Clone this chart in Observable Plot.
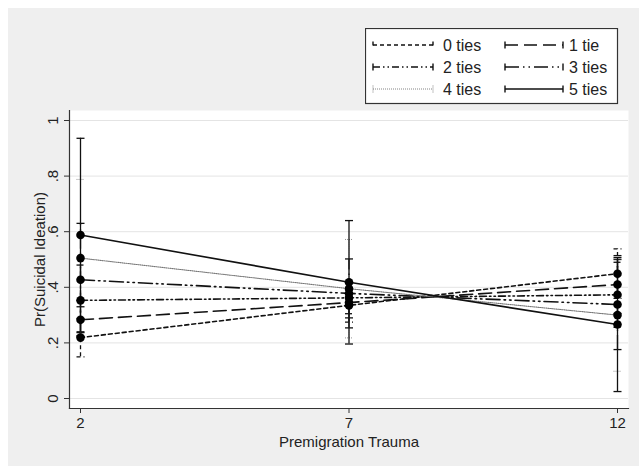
<!DOCTYPE html>
<html><head><meta charset="utf-8">
<script src="https://cdn.jsdelivr.net/npm/d3@7"></script>
<script src="https://cdn.jsdelivr.net/npm/@observablehq/plot@0.6"></script>
<style>
body{margin:0;background:#fff;}
#wrap{position:relative;width:639px;height:466px;background:#fff;overflow:hidden;font-family:"Liberation Sans",Arial,Helvetica,sans-serif;}
#bg{position:absolute;left:8px;top:8px;right:0;bottom:0;background:#efefef;}
#chart{position:absolute;left:0;top:0;}
#legend{position:absolute;left:365px;top:28px;}
</style></head><body>
<div id="wrap"><div id="bg"></div><div id="chart"></div><div id="legend"></div></div>
<script>
// ---- data ----
const trauma = [2, 7, 12];
const tieLabels = ["0 ties", "1 tie", "2 ties", "3 ties", "4 ties", "5 ties"];
const prob = [
  [0.219, 0.335, 0.449],
  [0.283, 0.345, 0.410],
  [0.353, 0.362, 0.373],
  [0.427, 0.378, 0.338],
  [0.505, 0.395, 0.300],
  [0.588, 0.418, 0.266]
];
const lower = [
  [0.150, 0.275, 0.360],
  [0.237, 0.290, 0.306],
  [0.226, 0.305, 0.256],
  [0.224, 0.254, 0.176],
  [0.222, 0.218, 0.098],
  [0.240, 0.196, 0.025]
];
const upper = [
  [0.288, 0.395, 0.538],
  [0.330, 0.400, 0.514],
  [0.480, 0.420, 0.490],
  [0.630, 0.502, 0.500],
  [0.788, 0.572, 0.502],
  [0.936, 0.640, 0.507]
];
const yTicks = [0, 0.2, 0.4, 0.6, 0.8, 1];
const yTickLabels = ["0", ".2", ".4", ".6", ".8", "1"];
const xTicks = [2, 7, 12];
const xTitle = "Premigration Trauma";
const yTitle = "Pr(Suicidal Ideation)";

// ---- styles ----
const styles = [
  {dash: "4,3", color: "#111", width: 1.6},
  {dash: "13,6", color: "#111", width: 1.6},
  {dash: "7,3,1.5,3,1.5,3", color: "#111", width: 1.6},
  {dash: "14,4,1.5,4,1.5,4", color: "#111", width: 1.6},
  {dash: "1,1", color: "#777", width: 1.1},
  {dash: null, color: "#111", width: 1.6}
];

const rows = tieLabels.flatMap((s, i) => trauma.map((x, j) => ({
  series: s, i, x, p: prob[i][j], lo: lower[i][j], hi: upper[i][j]
})));

const cap = {draw(ctx, size) { const w = Math.sqrt(size / Math.PI); ctx.moveTo(-w, 0); ctx.lineTo(w, 0); }};

const marks = [
  Plot.frame({fill: "white", stroke: "none"}),
  Plot.gridY(yTicks, {stroke: "#e4e4e4", strokeOpacity: 1, strokeWidth: 1})
];
tieLabels.forEach((s, i) => {
  const st = styles[i];
  const d = rows.filter(r => r.i === i);
  const o = {stroke: st.color, strokeWidth: st.width - 0.3, strokeDasharray: st.dash || undefined};
  marks.push(Plot.ruleX(d, {x: "x", y1: "lo", y2: "hi", ...o}));
  marks.push(Plot.dot(d, {x: "x", y: "lo", symbol: cap, r: 4, fill: "none", ...o}));
  marks.push(Plot.dot(d, {x: "x", y: "hi", symbol: cap, r: 4, fill: "none", ...o}));
});
tieLabels.forEach((s, i) => {
  const st = styles[i];
  marks.push(Plot.line(rows.filter(r => r.i === i), {x: "x", y: "p", stroke: st.color, strokeWidth: st.width, strokeDasharray: st.dash || undefined}));
});
marks.push(Plot.dot(rows, {x: "x", y: "p", r: 4.3, fill: "#000", stroke: "none"}));
marks.push(Plot.frame({anchor: "left", stroke: "#333", strokeWidth: 1.2}));
marks.push(Plot.frame({anchor: "bottom", stroke: "#333", strokeWidth: 1.2}));
marks.push(Plot.axisY(yTicks, {
  tickFormat: d => yTickLabels[yTicks.indexOf(d)], tickRotate: -90, tickSize: 5, tickPadding: 6.5,
  fontSize: 15, stroke: "#333", color: "#222",
  label: yTitle, labelAnchor: "center", labelArrow: "none", labelOffset: 35
}));
marks.push(Plot.axisX(xTicks, {
  tickFormat: d => String(d), tickSize: 5, tickPadding: 4, fontSize: 15, stroke: "#333",
  label: xTitle, labelAnchor: "center", labelArrow: "none", labelOffset: 38
}));

const chart = Plot.plot({
  width: 639, height: 466,
  marginLeft: 69, marginRight: 11, marginTop: 110, marginBottom: 58,
  x: {domain: [2, 12], inset: 11},
  y: {domain: [0, 1], inset: 10},
  style: {background: "transparent", fontFamily: "'Liberation Sans', Arial, sans-serif", fontSize: "15px", color: "#222"},
  marks
});
document.getElementById("chart").appendChild(chart);

// ---- legend ----
const L = d3.select("#legend").append("svg").attr("width", 256).attr("height", 78);
L.append("rect").attr("x", 0.5).attr("y", 0.5).attr("width", 252).attr("height", 75)
  .attr("fill", "white").attr("stroke", "#333").attr("stroke-width", 1.2);
tieLabels.forEach((s, i) => {
  const st = styles[i];
  const col = i % 2, row = Math.floor(i / 2);
  const x0 = col ? 140 : 8, x1 = col ? 198 : 68, y = 17 + row * 22;
  const g = L.append("g").attr("stroke", st.color).attr("stroke-width", st.width - 0.2)
    .attr("stroke-dasharray", st.dash || null).attr("fill", "none");
  g.append("line").attr("x1", x0).attr("x2", x1).attr("y1", y).attr("y2", y);
  g.append("line").attr("x1", x0).attr("x2", x0).attr("y1", y - 3.5).attr("y2", y + 3.5);
  g.append("line").attr("x1", x1).attr("x2", x1).attr("y1", y - 3.5).attr("y2", y + 3.5);
  L.append("text").attr("x", col ? 204 : 78).attr("y", y).attr("dy", "0.36em")
    .attr("font-size", 16).attr("fill", "#222").attr("font-family", "'Liberation Sans', Arial, sans-serif").text(s);
});
</script></body></html>
